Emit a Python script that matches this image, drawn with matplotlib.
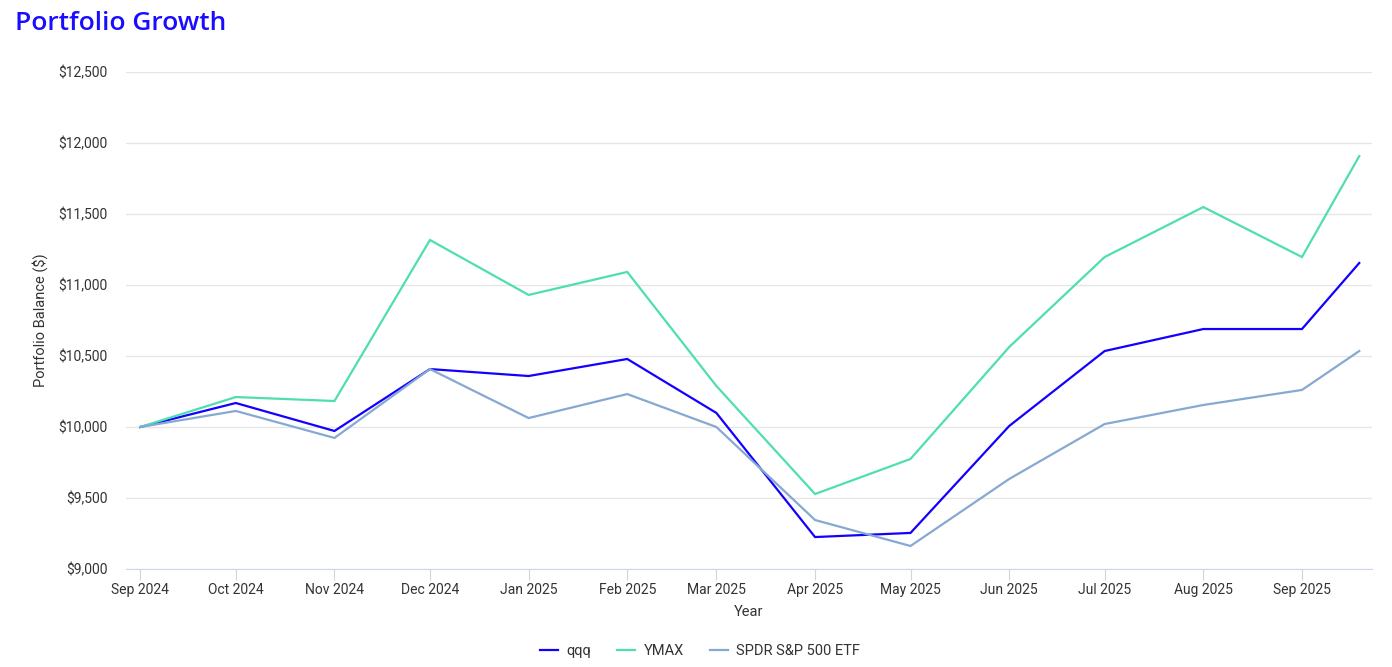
#!/usr/bin/env python3
"""
Portfolio Growth: qqq vs YMAX vs SPDR S&P 500 ETF
"""

import matplotlib
matplotlib.use('Agg')
import matplotlib.pyplot as plt
import matplotlib.dates as mdates
import matplotlib.ticker as mticker
import pandas as pd

plt.rcParams['font.family'] = ['Roboto', 'DejaVu Sans']

# Datos
fechas = ['2024-09-01', '2024-10-01', '2024-11-01', '2024-12-01', '2025-01-01',
          '2025-02-01', '2025-03-01', '2025-04-01', '2025-05-01', '2025-06-01',
          '2025-07-01', '2025-08-01', '2025-09-01', '2025-09-19']
qqq = [10000, 10169, 9972, 10408, 10359, 10479, 10099, 9225, 9254, 10007,
       10535, 10690, 10690, 11155]
ymax = [10000, 10211, 10183, 11317, 10930, 11092, 10289, 9528, 9775, 10563,
        11197, 11549, 11197, 11908]
spdr = [10000, 10113, 9923, 10408, 10063, 10232, 10000, 9345, 9162, 9634,
        10021, 10155, 10261, 10535]

series = [('qqq', qqq, '#1400ff'),
          ('YMAX', ymax, '#4fdfae'),
          ('SPDR S&P 500 ETF', spdr, '#86a9d1')]

x = pd.to_datetime(fechas)

fig = plt.figure(figsize=(13.92, 6.67), dpi=100)
ax = fig.add_axes([126 / 1392, 1 - 569 / 667, (1372 - 126) / 1392, (569 - 72) / 667])

for nombre, valores, color in series:
    ax.plot(x, valores, color=color, linewidth=1.6, label=nombre, solid_joinstyle='miter')

ax.set_ylim(9000, 12500)
ax.set_xlim(pd.Timestamp('2024-08-27 12:00'), pd.Timestamp('2025-09-23'))
ax.yaxis.set_major_locator(mticker.MultipleLocator(500))
ax.yaxis.set_major_formatter(mticker.FuncFormatter(lambda v, p: f'${v:,.0f}'))
ax.xaxis.set_major_locator(mdates.MonthLocator())
ax.xaxis.set_major_formatter(mdates.DateFormatter('%b %Y'))

ax.grid(axis='y', color='#e6e6e6', linewidth=1)
ax.set_axisbelow(True)
for s in ['top', 'right', 'left']:
    ax.spines[s].set_visible(False)
ax.spines['bottom'].set_color('#ccd6eb')
ax.tick_params(axis='y', length=0, labelsize=10, colors='#333333', pad=13)
ax.tick_params(axis='x', length=8, color='#ccd6eb', labelsize=10, labelcolor='#333333', pad=2)

ax.set_ylabel('Portfolio Balance ($)', fontsize=10.5, color='#333333', labelpad=8)
ax.set_xlabel('Year', fontsize=10.5, color='#333333', labelpad=6)

fig.text(15 / 1392, 1 - 23 / 667, 'Portfolio Growth', fontsize=19, color='#1a0dff',
         ha='left', va='center', family=['Open Sans', 'DejaVu Sans'], weight='semibold')

fig.legend(loc='center', bbox_to_anchor=(700 / 1392, 1 - 651 / 667), ncol=3,
           frameon=False, fontsize=10.5, handlelength=1.25, handletextpad=0.55,
           columnspacing=1.8, labelcolor='#333333')

plt.savefig('out.png', dpi=100)
plt.close()
